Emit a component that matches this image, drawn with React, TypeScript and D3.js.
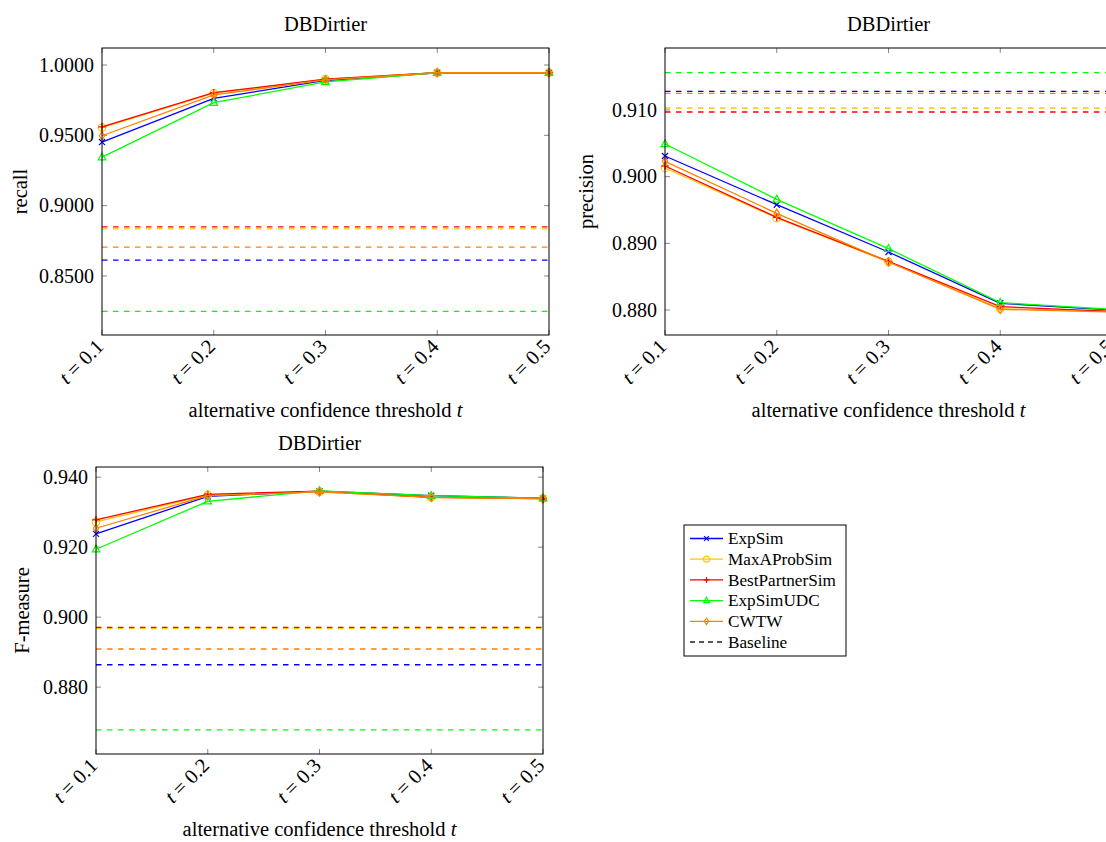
import React from 'react';
import * as d3 from 'd3';

// Alternative confidence thresholds on the x axis
const thresholds = [0.1, 0.2, 0.3, 0.4, 0.5];
const methods = ['ExpSim', 'MaxAProbSim', 'BestPartnerSim', 'ExpSimUDC', 'CWTW'];

// Recall per method
const recallExpSim = [0.9452, 0.9763, 0.989, 0.9945, 0.9945];
const recallMaxAProbSim = [0.9555, 0.98, 0.99, 0.9945, 0.9945];
const recallBestPartnerSim = [0.956, 0.9803, 0.99, 0.9945, 0.9945];
const recallExpSimUDC = [0.9345, 0.9732, 0.988, 0.9945, 0.9945];
const recallCWTW = [0.9497, 0.9787, 0.9895, 0.9945, 0.9945];
const recallBaseline = [0.8613, 0.8835, 0.8849, 0.8248, 0.8705];

// Precision per method
const precisionExpSim = [0.9031, 0.8958, 0.8887, 0.881, 0.88];
const precisionMaxAProbSim = [0.9013, 0.8938, 0.8872, 0.8802, 0.8798];
const precisionBestPartnerSim = [0.9016, 0.8939, 0.8873, 0.8805, 0.8798];
const precisionExpSimUDC = [0.9049, 0.8966, 0.8892, 0.8811, 0.8801];
const precisionCWTW = [0.9023, 0.8945, 0.8872, 0.8801, 0.8797];
const precisionBaseline = [0.9128, 0.9103, 0.9097, 0.9156, 0.9125];

// F-measure per method
const fExpSim = [0.9238, 0.9345, 0.936, 0.9347, 0.934];
const fMaxAProbSim = [0.9272, 0.9349, 0.9358, 0.9342, 0.9339];
const fBestPartnerSim = [0.9278, 0.9351, 0.936, 0.9342, 0.9339];
const fExpSimUDC = [0.9194, 0.9331, 0.9361, 0.9347, 0.934];
const fCWTW = [0.9254, 0.9347, 0.9358, 0.9342, 0.9338];
const fBaseline = [0.8864, 0.8967, 0.8971, 0.8678, 0.8909];

const recallTicks = [0.85, 0.9, 0.95, 1.0];
const precisionTicks = [0.88, 0.89, 0.9, 0.91];
const fTicks = [0.88, 0.9, 0.92, 0.94];

const COLORS = ['#0000ff', '#ffc800', '#ff0000', '#00ff00', '#ff8000'];
const MARKERS = ['x', 'o', '+', 'triangle', 'diamond'];
const FONT = "'Liberation Serif', 'Times New Roman', serif";
const DASH = '5.5,5.5';

function Marker({ type, x, y, color, r = 3.8 }: { type: string; x: number; y: number; color: string; r?: number }) {
  const sw = 1.2;
  switch (type) {
    case 'x':
      return (
        <g stroke={color} strokeWidth={sw}>
          <line x1={x - r * 0.8} y1={y - r * 0.8} x2={x + r * 0.8} y2={y + r * 0.8} />
          <line x1={x - r * 0.8} y1={y + r * 0.8} x2={x + r * 0.8} y2={y - r * 0.8} />
        </g>
      );
    case 'o':
      return <circle cx={x} cy={y} r={r} fill="none" stroke={color} strokeWidth={sw} />;
    case '+':
      return (
        <g stroke={color} strokeWidth={sw}>
          <line x1={x - r} y1={y} x2={x + r} y2={y} />
          <line x1={x} y1={y - r} x2={x} y2={y + r} />
        </g>
      );
    case 'triangle': {
      const p = `${x},${y - r * 1.1} ${x + r},${y + r * 0.7} ${x - r},${y + r * 0.7}`;
      return <polygon points={p} fill="none" stroke={color} strokeWidth={sw} />;
    }
    case 'diamond': {
      const p = `${x},${y - r * 1.1} ${x + r * 0.7},${y} ${x},${y + r * 1.1} ${x - r * 0.7},${y}`;
      return <polygon points={p} fill="none" stroke={color} strokeWidth={sw} />;
    }
    default:
      return null;
  }
}

type PanelProps = {
  x0: number;
  x1: number;
  y0: number;
  y1: number;
  yDomain: [number, number];
  yTicks: number[];
  fmt: string;
  yLabel: string;
  yLabelGap: number;
  series: number[][];
  baseline: number[];
};

function Panel({ x0, x1, y0, y1, yDomain, yTicks, fmt, yLabel, yLabelGap, series, baseline }: PanelProps) {
  const x = d3.scaleLinear().domain([thresholds[0], thresholds[thresholds.length - 1]]).range([x0, x1]);
  const y = d3.scaleLinear().domain(yDomain).range([y1, y0]);
  const line = d3
    .line<number>()
    .x((_, i) => x(thresholds[i]))
    .y((d) => y(d));
  const f = d3.format(fmt);
  const tl = 5;
  const cx = (x0 + x1) / 2;
  return (
    <g>
      {/* tick marks on all four sides */}
      <g stroke="#888" strokeWidth={1}>
        {thresholds.map((t) => (
          <g key={'xt' + t}>
            <line x1={x(t)} x2={x(t)} y1={y1} y2={y1 - tl} />
            <line x1={x(t)} x2={x(t)} y1={y0} y2={y0 + tl} />
          </g>
        ))}
        {yTicks.map((v) => (
          <g key={'yt' + v}>
            <line x1={x0} x2={x0 + tl} y1={y(v)} y2={y(v)} />
            <line x1={x1} x2={x1 - tl} y1={y(v)} y2={y(v)} />
          </g>
        ))}
      </g>
      {/* baselines */}
      {baseline.map((b, i) => (
        <line
          key={'b' + i}
          x1={x0}
          x2={x1}
          y1={y(b)}
          y2={y(b)}
          stroke={COLORS[i]}
          strokeWidth={1.3}
          strokeDasharray={DASH}
        />
      ))}
      {/* method curves */}
      {series.map((s, i) => (
        <g key={'s' + i}>
          <path d={line(s) || ''} fill="none" stroke={COLORS[i]} strokeWidth={1.3} />
          {s.map((v, j) => (
            <Marker key={j} type={MARKERS[i]} x={x(thresholds[j])} y={y(v)} color={COLORS[i]} />
          ))}
        </g>
      ))}
      <rect x={x0} y={y0} width={x1 - x0} height={y1 - y0} fill="none" stroke="#000" strokeWidth={1} />
      {/* y tick labels */}
      {yTicks.map((v) => (
        <text key={'yl' + v} x={x0 - 8} y={y(v)} dy="0.33em" textAnchor="end" fontSize={20} fontFamily={FONT}>
          {f(v)}
        </text>
      ))}
      {/* x tick labels */}
      {thresholds.map((t) => (
        <text
          key={'xl' + t}
          transform={`translate(${x(t) - 2},${y1 + 8}) rotate(-45)`}
          dy="0.33em"
          textAnchor="end"
          fontSize={20.5}
          fontFamily={FONT}
        >
          <tspan fontStyle="italic">t</tspan>
          <tspan> = {t.toFixed(1)}</tspan>
        </text>
      ))}
      <text x={cx} y={y0 - 17} textAnchor="middle" fontSize={20.5} fontFamily={FONT}>
        DBDirtier
      </text>
      <text x={cx} y={y1 + 82} textAnchor="middle" fontSize={20.5} fontFamily={FONT}>
        alternative confidence threshold <tspan fontStyle="italic">t</tspan>
      </text>
      <text
        transform={`translate(${x0 - yLabelGap},${(y0 + y1) / 2}) rotate(-90)`}
        textAnchor="middle"
        fontSize={20.5}
        fontFamily={FONT}
      >
        {yLabel}
      </text>
    </g>
  );
}

function Legend({ x, y }: { x: number; y: number }) {
  const w = 162;
  const h = 131;
  const rowH = 20.7;
  const items = [...methods, 'Baseline'];
  return (
    <g>
      <rect x={x} y={y} width={w} height={h} fill="#fff" stroke="#000" strokeWidth={1} />
      {items.map((name, i) => {
        const cy = y + 13.5 + i * rowH;
        const isBase = i === methods.length;
        const color = isBase ? '#222' : COLORS[i];
        return (
          <g key={name}>
            <line
              x1={x + 6}
              x2={x + 39}
              y1={cy}
              y2={cy}
              stroke={color}
              strokeWidth={1.3}
              strokeDasharray={isBase ? '5,4' : undefined}
            />
            {!isBase && <Marker type={MARKERS[i]} x={x + 22.5} y={cy} color={color} r={3} />}
            <text x={x + 44} y={cy} dy="0.33em" fontSize={17.2} fontFamily={FONT}>
              {name}
            </text>
          </g>
        );
      })}
    </g>
  );
}

export default function App() {
  return (
    <svg
      width={1106}
      height={842}
      style={{ position: 'absolute', left: 0, top: 0, background: '#fff' }}
    >
      <Panel
        x0={102}
        x1={549}
        y0={48}
        y1={335}
        yDomain={[0.808, 1.0121]}
        yTicks={recallTicks}
        fmt=".4f"
        yLabel="recall"
        yLabelGap={75}
        series={[recallExpSim, recallMaxAProbSim, recallBestPartnerSim, recallExpSimUDC, recallCWTW]}
        baseline={recallBaseline}
      />
      <Panel
        x0={665}
        x1={1112}
        y0={48}
        y1={335}
        yDomain={[0.87625, 0.9193]}
        yTicks={precisionTicks}
        fmt=".3f"
        yLabel="precision"
        yLabelGap={72}
        series={[precisionExpSim, precisionMaxAProbSim, precisionBestPartnerSim, precisionExpSimUDC, precisionCWTW]}
        baseline={precisionBaseline}
      />
      <Panel
        x0={96}
        x1={543}
        y0={467}
        y1={754}
        yDomain={[0.8609, 0.9429]}
        yTicks={fTicks}
        fmt=".3f"
        yLabel="F-measure"
        yLabelGap={67}
        series={[fExpSim, fMaxAProbSim, fBestPartnerSim, fExpSimUDC, fCWTW]}
        baseline={fBaseline}
      />
      <Legend x={684} y={525} />
    </svg>
  );
}
